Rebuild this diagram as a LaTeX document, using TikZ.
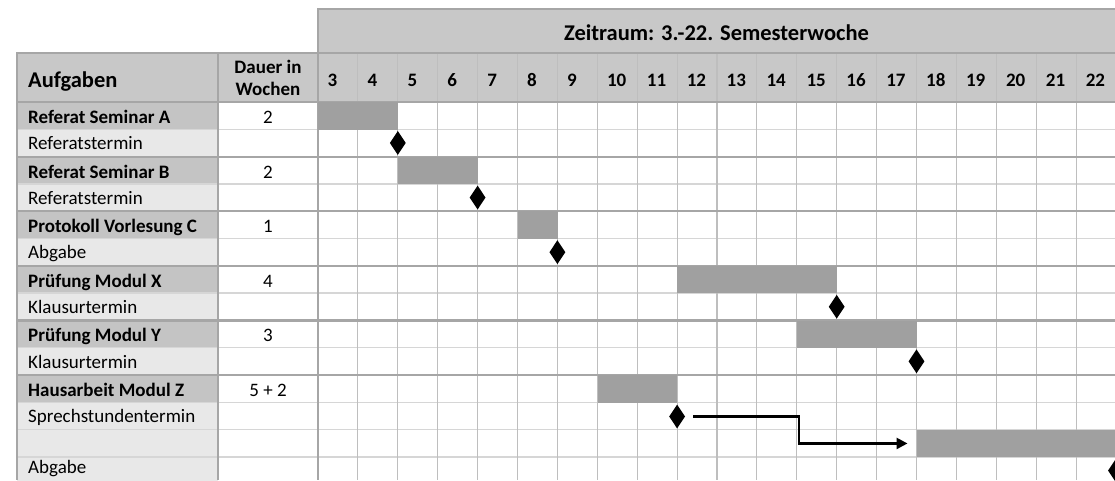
\documentclass[tikz,border=0pt]{standalone}
\usepackage{fontspec}
\setmainfont{Carlito}
\usetikzlibrary{shapes.geometric,arrows.meta}
\definecolor{hdr}{HTML}{C8C8C8}
\definecolor{taskfill}{HTML}{C4C4C4}
\definecolor{subfill}{HTML}{E8E8E8}
\definecolor{barfill}{HTML}{A0A0A0}
\definecolor{thinln}{HTML}{D6D6D6}
\definecolor{vln}{HTML}{BEBEBE}
\definecolor{thickln}{HTML}{A6A6A6}
\tikzset{
  thinline/.style={draw=thinln, line width=1.3pt},
  vline/.style={draw=vln, line width=1.1pt},
  thickline/.style={draw=thickln, line width=2.2pt},
  tasklbl/.style={anchor=base west, inner sep=0, font=\bfseries\fontsize{19}{22}\selectfont},
  sublbl/.style={anchor=base west, inner sep=0, font=\fontsize{19}{22}\selectfont},
  durlbl/.style={anchor=base, inner sep=0, font=\fontsize{19}{22}\selectfont},
  weeklbl/.style={anchor=base west, inner sep=0, font=\bfseries\fontsize{19}{22}\selectfont},
  headlbl/.style={inner sep=0, font=\bfseries\fontsize{19}{22}\selectfont, align=center},
  biglbl/.style={anchor=base west, inner sep=0, font=\bfseries\fontsize{22.5}{26}\selectfont},
  titlelbl/.style={anchor=base, inner sep=0, font=\bfseries\fontsize{22.5}{26}\selectfont},
  bar/.style={fill=barfill, draw=none, inner sep=0, minimum height=27.3pt, anchor=north west},
  milestone/.style={diamond, fill=black, inner sep=0, minimum width=16pt, minimum height=24pt},
  flow/.style={draw=black, line width=2.5pt, -{Triangle[length=11pt,width=11pt]}},
}
\begin{document}
\begin{tikzpicture}[x=1pt,y=-1pt]
\useasboundingbox (0,0) rectangle (1115,480);
\clip (0,0) rectangle (1115,480);
% ---- fills
\fill[hdr] (318,9) rectangle (1116,53);
\fill[hdr] (17,53) rectangle (1116,102);
\foreach \r in {0,2,...,10}
  \fill[taskfill] (17,{102+27.3*\r}) rectangle (218,{102+27.3*(\r+1)});
\foreach \r in {1,3,5,7,9,11,12,13}
  \fill[subfill] (17,{102+27.3*\r}) rectangle (218,{102+27.3*(\r+1)});
% ---- thin lines
\foreach \r in {1,3,5,7,9,11,12,13}
  \draw[thinline] (17,{102+27.3*\r}) -- (1116,{102+27.3*\r});
\foreach \k in {1,...,19}
  \draw[vline] ({318+39.9*\k},53) -- ({318+39.9*\k},480);
% ---- thick lines
\foreach \r in {0,2,...,10}
  \draw[thickline] (17,{102+27.3*\r}) -- (1116,{102+27.3*\r});
\draw[thickline] (17,53) -- (1116,53);
\draw[thickline] (318,9) -- (1116,9);
\draw[thickline] (17,52) -- (17,480);
\draw[thickline] (218,52) -- (218,480);
\draw[thickline] (318,8) -- (318,480);
% ---- header texts
\node[titlelbl] (title) at (716.5,40) {Zeitraum: 3.-22. Semesterwoche};
\node[biglbl] (aufg) at (28,87.5) {Aufgaben};
\node[headlbl] (dauer) at (268,77.5) {Dauer in\\Wochen};
\foreach \w [count=\k from 0] in {3,...,22}
  \node[weeklbl] (wk\w) at ({318+39.9*\k+9.5},86) {\w};
% ---- task rows
\foreach \r/\t/\d/\s [count=\i] in {
  0/Referat Seminar A/2/Referatstermin,
  2/Referat Seminar B/2/Referatstermin,
  4/Protokoll Vorlesung C/1/Abgabe,
  6/Prüfung Modul X/4/Klausurtermin,
  8/Prüfung Modul Y/3/Klausurtermin,
  10/Hausarbeit Modul Z/5 + 2/Sprechstundentermin}{
  \node[tasklbl] (task\i) at (28,{102+27.3*\r+13.65+7.8}) {\t};
  \node[durlbl] (dur\i) at (268,{102+27.3*\r+13.65+7.8}) {\d};
  \node[sublbl] (sub\i) at (28,{102+27.3*(\r+1)+13.65+6.8}) {\s};
}
\node[sublbl] (subend) at (28,473.5) {Abgabe};
% ---- bars
\node[bar, minimum width=79.8pt] (bA) at (318,102) {};
\node[bar, minimum width=79.8pt] (bB) at (397.8,156.6) {};
\node[bar, minimum width=39.9pt] (bC) at (517.5,211.2) {};
\node[bar, minimum width=159.6pt] (bX) at (677.1,265.8) {};
\node[bar, minimum width=119.7pt] (bY) at (796.8,320.4) {};
\node[bar, minimum width=79.8pt] (bZ) at (597.3,375) {};
\node[bar, minimum width=200pt] (bZb) at (916.5,429.6) {};
% ---- milestones
\node[milestone] (mA) at (397.8,142.95) {};
\node[milestone] (mB) at (477.6,197.55) {};
\node[milestone] (mC) at (557.4,252.15) {};
\node[milestone] (mX) at (836.7,306.75) {};
\node[milestone] (mY) at (916.5,361.35) {};
\node[milestone] (mZ) at (677.1,416.5) {};
\node[milestone] (mZb) at (1116,470.55) {};
% ---- connector
\coordinate (bend) at (799,443.25);
\draw[flow] ([xshift=8pt]mZ.east) -| (bend) |- ([xshift=-9pt]bZb.west);
\end{tikzpicture}
\end{document}
